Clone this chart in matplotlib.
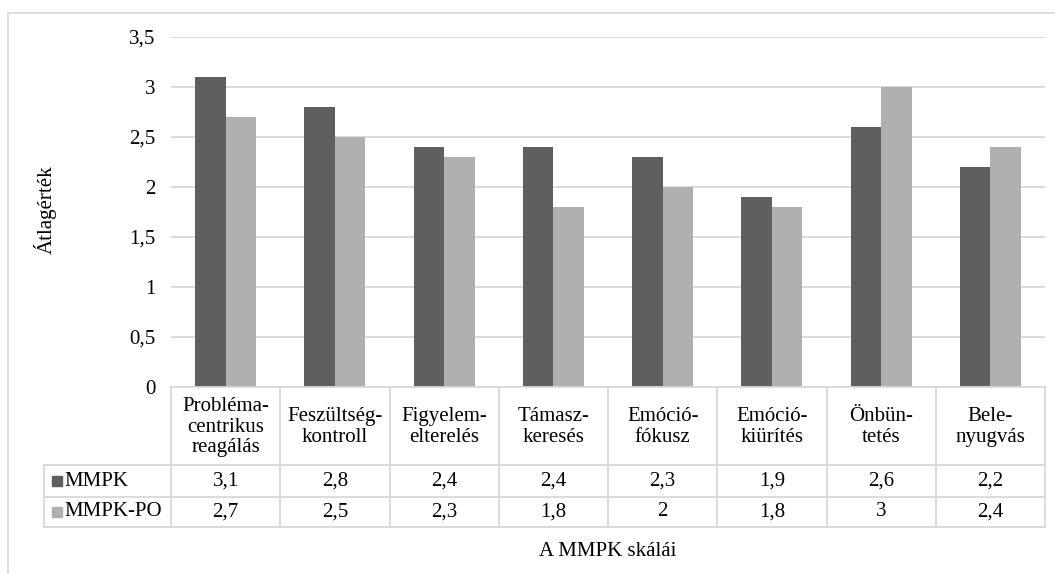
import matplotlib
matplotlib.use("Agg")
import matplotlib.pyplot as plt
from matplotlib.patches import Rectangle
from matplotlib.ticker import FuncFormatter

plt.rcParams['font.family'] = ['Liberation Serif', 'DejaVu Serif']
FS = 15

categories = ["Probléma-\ncentrikus\nreagálás", "Feszültség-\nkontroll", "Figyelem-\nelterelés",
              "Támasz-\nkeresés", "Emóció-\nfókusz", "Emóció-\nkiürítés", "Önbün-\ntetés",
              "Bele-\nnyugvás"]
series_names = ["MMPK", "MMPK-PO"]
mmpk = [3.1, 2.8, 2.4, 2.4, 2.3, 1.9, 2.6, 2.2]
mmpk_po = [2.7, 2.5, 2.3, 1.8, 2.0, 1.8, 3.0, 2.4]
colors = ["#5f5f5f", "#b0b0b0"]
grid_c = "#d9d9d9"
W, H = 1055, 574


def fmt(v):
    return f"{v:g}".replace(".", ",")


def fx(px):
    return px / W


def fy(py):
    return 1 - py / H


fig = plt.figure(figsize=(W / 100, H / 100), dpi=100)

# outer chart border (only top and left visible in the crop)
fig.patches.append(Rectangle((fx(8), -0.05), 1.2, fy(13) + 0.05, transform=fig.transFigure,
                             fill=False, edgecolor=grid_c, lw=1.2))

# ---- bar chart ----
ax = fig.add_axes([fx(171), fy(387), fx(1045) - fx(171), fy(37) - fy(387)])
n = len(categories)
bw = 0.28
xs = [i + 0.5 for i in range(n)]
ax.bar([x - bw / 2 for x in xs], mmpk, width=bw, color=colors[0], zorder=3)
ax.bar([x + bw / 2 for x in xs], mmpk_po, width=bw, color=colors[1], zorder=3)
ax.set_xlim(0, n)
ax.set_ylim(0, 3.5)
ax.set_yticks([0, 0.5, 1, 1.5, 2, 2.5, 3, 3.5])
ax.yaxis.set_major_formatter(FuncFormatter(lambda v, p: fmt(v)))
ax.tick_params(axis="y", length=0, pad=11, labelsize=FS)
ax.set_xticks([])
ax.grid(True, axis="y", color=grid_c, lw=1.3, zorder=0)
for s in ax.spines.values():
    s.set_visible(False)
fig.text(fx(45), fy(210), "Átlagérték", rotation=90, ha="center", va="center", fontsize=FS)

# ---- data table (x in category units, y in pixel rows) ----
tab = fig.add_axes([fx(44), fy(527), fx(1045) - fx(44), fy(387) - fy(527)])
cat_w = (1045 - 171) / n
x0 = -(171 - 44) / cat_w
tab.set_xlim(x0, n)
tab.set_ylim(527, 387)
tab.axis("off")
lk = dict(color=grid_c, lw=1.3, clip_on=False)
tab.plot([0, n], [387, 387], **lk)
for yy in (465, 497, 527):
    tab.plot([x0, n], [yy, yy], **lk)
tab.plot([x0, x0], [465, 527], **lk)
for i in range(n + 1):
    tab.plot([i, i], [387, 527], **lk)
for i, c in enumerate(categories):
    tab.text(i + 0.5, 427, c, ha="center", va="center", fontsize=FS, linespacing=1.1)
rows = [(series_names[0], mmpk, 481), (series_names[1], mmpk_po, 512)]
for k, (name, vals, yy) in enumerate(rows):
    tab.add_patch(Rectangle((x0 + 8 / cat_w, yy - 5), 10 / cat_w, 10, color=colors[k]))
    tab.text(x0 + 20 / cat_w, yy, name, ha="left", va="center", fontsize=FS)
    for i, v in enumerate(vals):
        tab.text(i + 0.5, yy, fmt(v), ha="center", va="center", fontsize=FS)

fig.text((fx(171) + fx(1045)) / 2, fy(552), "A MMPK skálái", ha="center", va="center", fontsize=FS)

fig.savefig("out.png", dpi=100)
